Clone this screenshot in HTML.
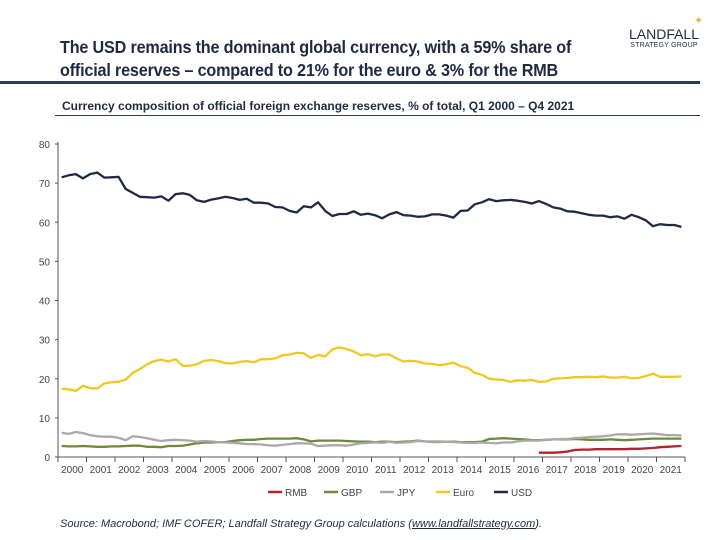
<!DOCTYPE html>
<html><head><meta charset="utf-8"><style>
body{margin:0;width:720px;height:540px;background:#fff;font-family:"Liberation Sans",sans-serif;overflow:hidden;position:relative}
.t{position:absolute}
</style></head><body>
<div class="t" style="left:60px;top:36px;font-size:17.5px;font-weight:bold;color:#1e2a44;line-height:23px;letter-spacing:-0.2px;transform:scaleX(0.925);transform-origin:0 0;white-space:nowrap">The USD remains the dominant global currency, with a 59% share of<br>official reserves – compared to 21% for the euro &amp; 3% for the RMB</div>
<div class="t" style="left:626px;top:27px;color:#1e2a44;text-align:center;width:76px">
<div style="font-size:14px;line-height:15px">LANDFALL</div><div style="font-size:7px;letter-spacing:0.2px">STRATEGY GROUP</div></div>
<div class="t" style="left:694px;top:14px;color:#d8b84a;font-size:11px">✦</div>
<div class="t" style="left:0;top:81px;width:700px;height:3px;background:#2a3a5c"></div>
<div class="t" style="left:62px;top:99px;font-size:12px;font-weight:bold;color:#1e2a44;white-space:nowrap">Currency composition of official foreign exchange reserves, % of total, Q1 2000 – Q4 2021</div>
<div class="t" style="left:55px;top:115px;width:645px;height:1px;background:#2a3a5c"></div>
<svg class="t" style="left:0;top:0" width="720" height="540" id="chart"></svg>
<div class="t" style="left:60px;top:518px;font-size:11px;font-style:italic;color:#1e2a44">Source: Macrobond; IMF COFER; Landfall Strategy Group calculations (<u>www.landfallstrategy.com</u>).</div>
<script>
const years=["2000","2001","2002","2003","2004","2005","2006","2007","2008","2009","2010","2011","2012","2013","2014","2015","2016","2017","2018","2019","2020","2021"];
const yTicks=[0,10,20,30,40,50,60,70,80];
const usd=[71.5,72,72.3,71.2,72.3,72.7,71.4,71.5,71.6,68.5,67.5,66.5,66.4,66.3,66.6,65.5,67.2,67.4,67.0,65.6,65.2,65.8,66.1,66.5,66.2,65.7,66.0,65.0,65.0,64.8,63.9,63.8,62.9,62.5,64.1,63.8,65.1,62.9,61.6,62.1,62.1,62.8,61.9,62.2,61.8,61.0,62.0,62.6,61.8,61.7,61.4,61.5,62.0,62.0,61.7,61.2,62.9,63.0,64.6,65.1,65.9,65.4,65.6,65.7,65.5,65.2,64.8,65.4,64.7,63.8,63.5,62.8,62.7,62.3,61.9,61.7,61.7,61.3,61.5,60.9,61.9,61.3,60.5,59.0,59.5,59.3,59.3,58.8];
const euro=[17.4,17.3,16.9,18.2,17.6,17.5,18.8,19.1,19.2,19.8,21.5,22.5,23.7,24.5,24.9,24.4,25.0,23.3,23.3,23.7,24.6,24.8,24.5,24.0,23.9,24.3,24.5,24.2,25.0,25.0,25.2,26.0,26.2,26.6,26.5,25.3,26.1,25.7,27.5,28.0,27.6,27.0,26.0,26.3,25.7,26.2,26.2,25.2,24.4,24.6,24.4,23.9,23.8,23.5,23.7,24.1,23.2,22.8,21.5,21.0,20.0,19.8,19.7,19.2,19.6,19.5,19.7,19.2,19.3,20.0,20.1,20.2,20.4,20.4,20.5,20.4,20.6,20.3,20.3,20.5,20.1,20.2,20.7,21.3,20.5,20.5,20.5,20.6];
const jpy=[6.2,5.9,6.4,6.1,5.6,5.3,5.2,5.2,4.9,4.3,5.3,5.1,4.8,4.4,4.1,4.3,4.4,4.3,4.2,3.9,4.1,4.0,3.8,3.7,3.6,3.5,3.3,3.3,3.2,3.0,2.9,3.1,3.3,3.5,3.5,3.4,2.8,2.9,3.0,3.0,2.9,3.2,3.5,3.6,3.7,3.6,3.9,3.6,3.7,3.8,4.1,4.0,3.8,3.8,3.9,3.8,3.7,3.6,3.6,3.7,3.6,3.5,3.7,3.7,4.0,4.2,4.2,4.2,4.4,4.5,4.6,4.6,4.8,4.9,5.1,5.2,5.3,5.5,5.8,5.8,5.7,5.8,5.9,6.0,5.8,5.6,5.6,5.5];
const gbp=[2.8,2.7,2.7,2.8,2.7,2.6,2.6,2.7,2.7,2.8,2.9,2.9,2.6,2.6,2.5,2.8,2.8,2.9,3.2,3.5,3.7,3.7,3.8,3.8,4.1,4.3,4.4,4.4,4.6,4.7,4.7,4.7,4.7,4.8,4.5,4.0,4.2,4.2,4.2,4.2,4.1,4.0,3.9,3.9,3.8,3.9,3.9,3.8,3.9,4.0,4.2,4.0,3.9,3.9,3.9,3.9,3.8,3.8,3.8,3.9,4.6,4.7,4.8,4.7,4.6,4.5,4.3,4.3,4.4,4.5,4.5,4.5,4.6,4.5,4.4,4.4,4.4,4.5,4.4,4.3,4.4,4.5,4.6,4.7,4.7,4.7,4.7,4.7];
const rmbStart=67;
const rmb=[1.1,1.1,1.1,1.2,1.4,1.8,1.9,1.9,2.0,2.0,2.0,2.0,2.0,2.1,2.1,2.2,2.3,2.5,2.6,2.7,2.8];
const series=[["gbp",gbp,0,"#6b8a3a"],["jpy",jpy,0,"#a9a9a9"],["rmb",rmb,rmbStart,"#b3202e"],["euro",euro,0,"#f2c81e"],["usd",usd,0,"#1e2a44"]];
const legend=[["RMB","#b3202e"],["GBP","#6b8a3a"],["JPY","#a9a9a9"],["Euro","#f2c81e"],["USD","#1e2a44"]];
const X0=58,X1=685,Y0=457,Y1=144;
const yw=(X1-X0)/years.length;
function xq(i){return X0+(i+0.5)*yw/4;}
function ys(v){return Y0-(v/80)*(Y0-Y1);}
const svg=document.getElementById('chart');const NS="http://www.w3.org/2000/svg";
function mk(t,a){const e=document.createElementNS(NS,t);for(const k in a)e.setAttribute(k,a[k]);svg.appendChild(e);return e;}
let e=mk('line',{x1:X0,y1:Y1-2,x2:X0,y2:Y0,stroke:'#555','stroke-width':1});


e=mk('line',{x1:X0,y1:Y0,x2:X1,y2:Y0,stroke:'#555','stroke-width':1});


yTicks.forEach(v=>{mk('line',{x1:X0-3,x2:X0,y1:ys(v),y2:ys(v),stroke:'#555'});
const t=mk('text',{x:X0-8,y:ys(v)+4,'text-anchor':'end','font-size':10,fill:'#444','font-family':'Liberation Sans'});t.textContent=v;

});
years.forEach((y,i)=>{mk('line',{x1:X0+i*yw,x2:X0+i*yw,y1:Y0,y2:Y0+5,stroke:'#555'});
const t=mk('text',{x:X0+(i+0.5)*yw,y:Y0+16,'text-anchor':'middle','font-size':10,fill:'#444','font-family':'Liberation Sans'});t.textContent=y;

});
mk('line',{x1:X1,x2:X1,y1:Y0,y2:Y0+5,stroke:'#555'});
series.forEach(([n,d,s,c])=>{const p=d.map((v,i)=>xq(i+s).toFixed(1)+','+ys(v).toFixed(1)).join(' ');
const l=mk('polyline',{points:p,fill:'none',stroke:c,'stroke-width':2.3,'stroke-linejoin':'round'});

});
let lx=268;legend.forEach(([n,c])=>{mk('line',{x1:lx,x2:lx+14,y1:492,y2:492,stroke:c,'stroke-width':2.5});
const t=mk('text',{x:lx+17,y:496,'font-size':10,fill:'#444','font-family':'Liberation Sans'});t.textContent=n;


lx+=n.length>3?58:56;});
</script>
</body></html>
